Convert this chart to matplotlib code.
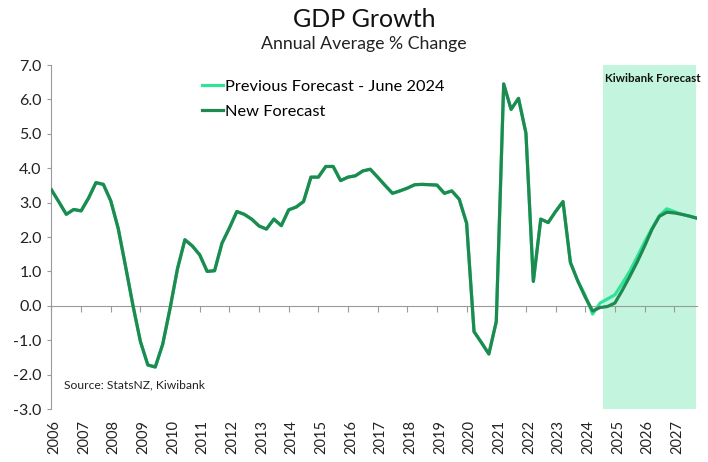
import matplotlib
matplotlib.use("Agg")
import matplotlib.pyplot as plt
import pandas as pd

# quarterly periods, 2006Q1 - 2027Q4
quarters = pd.period_range("2006Q1", "2027Q4", freq="Q")

# GDP growth, annual average % change (new forecast incl. history)
new_forecast = [
    3.37, 3.02, 2.66, 2.80, 2.76, 3.13, 3.58, 3.53,
    3.05, 2.25, 1.14, 0.00, -1.04, -1.72, -1.78, -1.12,
    -0.07, 1.08, 1.92, 1.74, 1.48, 1.00, 1.02, 1.82,
    2.26, 2.74, 2.66, 2.52, 2.32, 2.23, 2.52, 2.33,
    2.79, 2.87, 3.03, 3.74, 3.74, 4.05, 4.05, 3.64,
    3.74, 3.78, 3.92, 3.97, 3.74, 3.50, 3.27, 3.34,
    3.42, 3.52, 3.53, 3.52, 3.51, 3.27, 3.34, 3.10,
    2.40, -0.75, -1.07, -1.40, -0.46, 6.45, 5.71, 6.03,
    5.02, 0.71, 2.52, 2.42, 2.74, 3.03, 1.26, 0.72,
    0.25, -0.15, -0.05, -0.02, 0.08, 0.45, 0.85, 1.27,
    1.73, 2.22, 2.60, 2.72, 2.70, 2.66, 2.61, 2.55,
]

# June 2024 forecast, from 2023Q3 on (same history before that)
prev_start = 70
prev_tail = [
    1.26, 0.72, 0.30, -0.24, 0.08, 0.20, 0.32, 0.65, 1.00, 1.42,
    1.85, 2.25, 2.62, 2.82, 2.74, 2.66, 2.61, 2.55,
]
prev_forecast = new_forecast[:prev_start] + prev_tail

years = list(range(2006, 2028))
yticks = [-3, -2, -1, 0, 1, 2, 3, 4, 5, 6, 7]
forecast_start = 2024.6

DARK = "#1f8a50"
LIGHT = "#2fe39a"
SHADE = "#c3f5de"
GREY = "#9a9a9a"

plt.rcParams["font.family"] = ["Lato", "DejaVu Sans"]

x = [q.year + (q.quarter - 1) / 4 for q in quarters]

fig = plt.figure(figsize=(7.08, 4.62), dpi=100)
ax = fig.add_axes([0.0727, 0.1147, 0.9118, 0.7446])

ax.axvspan(forecast_start, x[-1], color=SHADE, lw=0, zorder=0)
ax.plot(x, prev_forecast, color=LIGHT, lw=2.3, label="Previous Forecast - June 2024", zorder=2)
ax.plot(x, new_forecast, color=DARK, lw=2.3, label="New Forecast", zorder=3)

ax.set_xlim(2006, x[-1] + 0.02)
ax.set_ylim(-3, 7)
ax.set_yticks(yticks)
ax.set_yticklabels([f"{v:.1f}" for v in yticks], fontsize=11.5, color="#222222")
ax.tick_params(axis="y", length=3, color=GREY, pad=4)

for s in ["top", "right"]:
    ax.spines[s].set_visible(False)
ax.spines["left"].set_color(GREY)
ax.spines["bottom"].set_color(GREY)
ax.spines["bottom"].set_position(("data", 0))
ax.set_xticks(years)
ax.tick_params(axis="x", length=4, color=GREY, labelbottom=False)

sec = ax.secondary_xaxis("bottom")
sec.set_xticks([y + 0.1 for y in years])
sec.set_xticklabels([str(y) for y in years], rotation=90, fontsize=10.5, color="#222222")
sec.tick_params(length=0, pad=8)
sec.spines["bottom"].set_visible(False)

ax.legend(loc="upper left", bbox_to_anchor=(0.211, 1.0), frameon=False,
          fontsize=11.8, handlelength=1.25, handletextpad=0.1, labelspacing=0.6)

ax.text(forecast_start + 0.08, 6.62, "Kiwibank Forecast", fontsize=8.3,
        fontweight="bold", va="center", ha="left", color="#111111")
ax.text(0.019, 0.07, "Source: StatsNZ, Kiwibank", transform=ax.transAxes,
        fontsize=8.7, color="#222222", va="center")

fig.text(0.514, 0.957, "GDP Growth", ha="center", va="center", fontsize=18, color="#111111")
fig.text(0.514, 0.905, "Annual Average % Change", ha="center", va="center", fontsize=12.8, color="#222222")

fig.savefig("out.png", dpi=100)
